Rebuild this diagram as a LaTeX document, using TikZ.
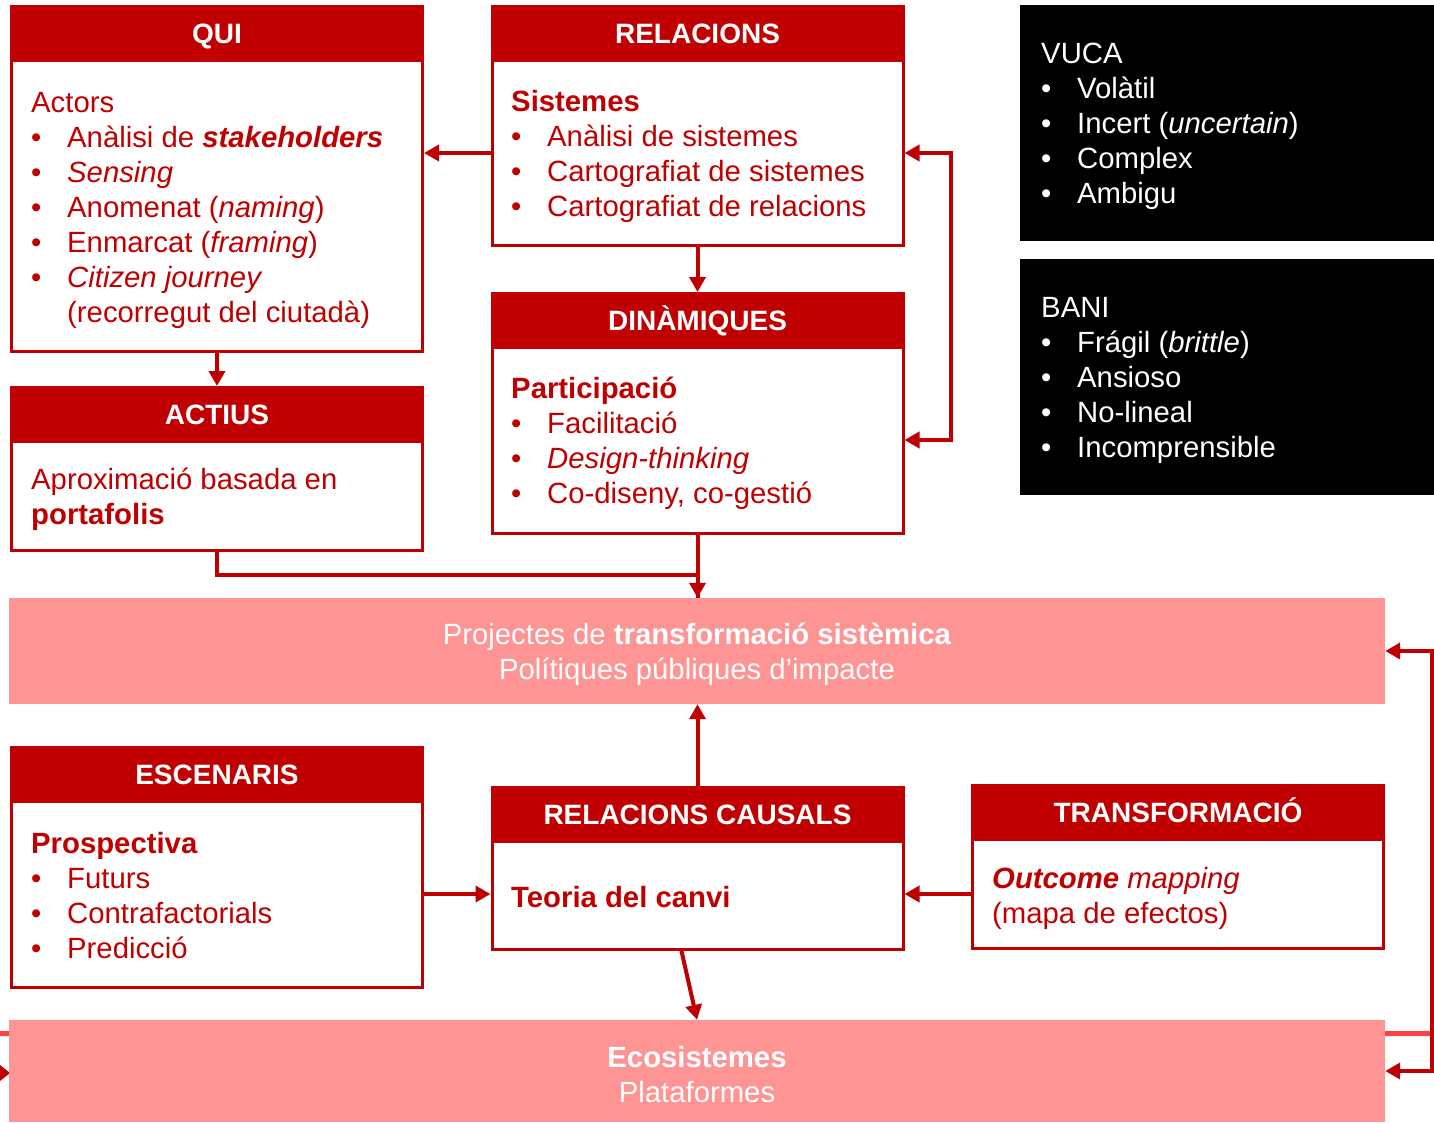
\documentclass[tikz,border=0pt]{standalone}
\usepackage{fontspec}
\setmainfont{Liberation Sans}
\usetikzlibrary{arrows.meta,calc}
\definecolor{dred}{HTML}{C00000}
\definecolor{pinkb}{HTML}{FF9494}
\definecolor{lred}{HTML}{FF4040}
\newcommand{\bl}{\makebox[36pt][l]{•}}
\newcommand{\bodyf}{\fontsize{29.3}{35}\selectfont}
\newcommand{\titlef}{\fontsize{28}{32}\selectfont\bfseries}
\newcommand{\fr}{\rule{0pt}{30pt}}
\tikzset{
  rboxst/.style={draw=dred, line width=3pt, fill=white, inner sep=0pt},
  rtitle/.style={fill=dred, text=white, font=\titlef, minimum height=57pt, inner sep=0pt, text height=20pt, text depth=0pt, anchor=north},
  kbox/.style={fill=black, inner sep=0pt},
  pbox/.style={fill=pinkb, inner sep=0pt},
  btext/.style={anchor=north west, inner sep=0pt, align=left, text=dred, font=\bodyf},
  wtext/.style={anchor=north west, inner sep=0pt, align=left, text=white, font=\bodyf},
  ptext/.style={anchor=north, inner sep=0pt, align=center, text=white, font=\bodyf},
  arr/.style={draw=dred, line width=4pt, -{Triangle[length=15pt,width=16pt]}},
  arrboth/.style={draw=dred, line width=4pt, {Triangle[length=15pt,width=16pt]}-{Triangle[length=15pt,width=16pt]}},
  ln/.style={draw=dred, line width=4pt},
}
\begin{document}
\begin{tikzpicture}[x=1pt,y=-1pt]
\useasboundingbox (0,0) rectangle (1434,1122);
% light red line behind bottom band
\draw[lred, line width=5pt] (0,1033) -- (1434,1033);
\fill[dred] (0,1065) -- (10,1073) -- (0,1081) -- cycle;

% QUI
\node[rboxst, minimum width=411, minimum height=345] (qui) at (217,179) {};
\node[rtitle, minimum width=414] (quiT) at (217,5) {QUI};
\node[btext] (quiB) at (31,82) {\fr Actors\\
\bl Anàlisi de \textbf{\textit{stakeholders}}\\
\bl \textit{Sensing}\\
\bl Anomenat (\textit{naming})\\
\bl Enmarcat (\textit{framing})\\
\bl \textit{Citizen journey}\\
\hspace*{36pt}(recorregut del ciutadà)};

% RELACIONS
\node[rboxst, minimum width=411, minimum height=239] (rel) at (697.5,126) {};
\node[rtitle, minimum width=414] (relT) at (697.5,5) {RELACIONS};
\node[btext] (relB) at (511,81) {\fr\textbf{Sistemes}\\
\bl Anàlisi de sistemes\\
\bl Cartografiat de sistemes\\
\bl Cartografiat de relacions};

% DINAMIQUES
\node[rboxst, minimum width=411, minimum height=240] (din) at (697.5,413.5) {};
\node[rtitle, minimum width=414] (dinT) at (697.5,292) {DINÀMIQUES};
\node[btext] (dinB) at (511,368) {\fr\textbf{Participació}\\
\bl Facilitació\\
\bl \textit{Design-thinking}\\
\bl Co-diseny, co-gestió};

% ACTIUS
\node[rboxst, minimum width=411, minimum height=163] (act) at (217,469) {};
\node[rtitle, minimum width=414] (actT) at (217,386) {ACTIUS};
\node[btext] (actB) at (31,459) {\fr Aproximació basada en\\
\textbf{portafolis}};

% VUCA / BANI
\node[kbox, minimum width=414, minimum height=236] (vuca) at (1227,123) {};
\node[wtext] (vucaB) at (1041,33) {\fr VUCA\\
\bl Volàtil\\
\bl Incert (\textit{uncertain})\\
\bl Complex\\
\bl Ambigu};
\node[kbox, minimum width=414, minimum height=236] (bani) at (1227,377) {};
\node[wtext] (baniB) at (1041,287) {\fr BANI\\
\bl Frágil (\textit{brittle})\\
\bl Ansioso\\
\bl No-lineal\\
\bl Incomprensible};

% pink bands
\node[pbox, minimum width=1376, minimum height=106] (p1) at (697,651) {};
\node[ptext] (p1B) at (697,614) {\fr Projectes de \textbf{transformació sistèmica}\\
Polítiques públiques d’impacte};
\node[pbox, minimum width=1376, minimum height=102] (p2) at (697,1071) {};
\node[ptext] (p2B) at (697,1037) {\fr\textbf{Ecosistemes}\\
Plataformes};

% ESCENARIS
\node[rboxst, minimum width=411, minimum height=240] (esc) at (217,867.5) {};
\node[rtitle, minimum width=414] (escT) at (217,746) {ESCENARIS};
\node[btext] (escB) at (31,823) {\fr\textbf{Prospectiva}\\
\bl Futurs\\
\bl Contrafactorials\\
\bl Predicció};

% RELACIONS CAUSALS
\node[rboxst, minimum width=411, minimum height=162] (rc) at (697.5,868.5) {};
\node[rtitle, minimum width=414] (rcT) at (697.5,786) {RELACIONS CAUSALS};
\node[btext] (rcB) at (511,877) {\fr\textbf{Teoria del canvi}};

% TRANSFORMACIO
\node[rboxst, minimum width=411, minimum height=163] (tr) at (1178,867) {};
\node[rtitle, minimum width=414] (trT) at (1178,784) {TRANSFORMACIÓ};
\node[btext] (trB) at (992,858) {\fr\textbf{\textit{Outcome}} \textit{mapping}\\
(mapa de efectos)};

% connectors
\coordinate (r1) at ([yshift=-27pt]rel.west);
\draw[arr] (r1) -- (r1 -| qui.east);
\draw[arr] (rel.south) -- (din.north);
\coordinate (r2) at ([yshift=-27pt]rel.east);
\coordinate (d2) at ([yshift=-26.5pt]din.east);
\draw[arrboth] (r2) -- ++(46,0) |- (d2);
\draw[arr] (qui.south) -- (act.north);
\coordinate (p1in) at (din.south |- p1.north);
\draw[ln] (act.south) -- ++(0,23) -| (p1in);
\draw[arr] (din.south) -- (p1in);
\draw[arr] (rc.north) -- (rc.north |- p1.south);
\coordinate (e1) at ([yshift=-26.5pt]esc.east);
\draw[arr] (e1) -- (e1 -| rc.west);
\coordinate (t1) at ([yshift=-27pt]tr.west);
\draw[arr] (t1) -- (t1 -| rc.east);
\draw[arr] ([xshift=-16pt]rc.south) -- (p2.north);
\draw[arrboth] (p1.east) -- ++(47,0) |- (p2.east);
\end{tikzpicture}
\end{document}
